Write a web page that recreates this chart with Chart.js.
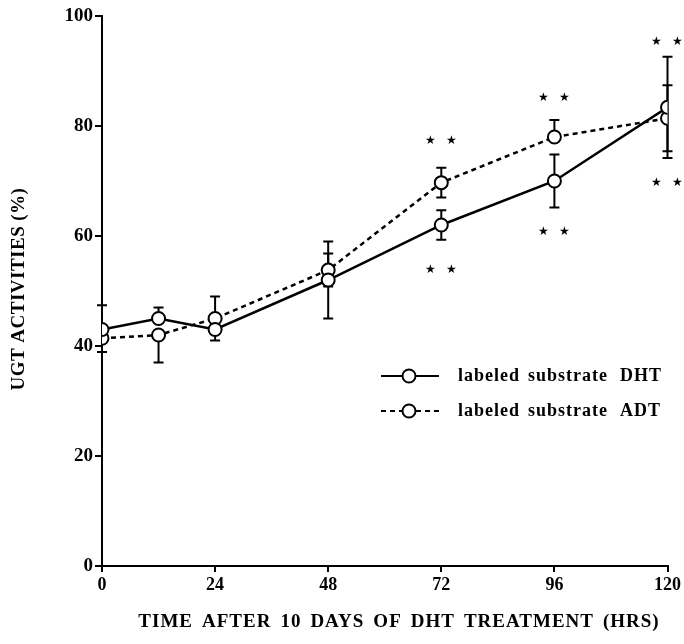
<!DOCTYPE html>
<html>
<head>
<meta charset="utf-8">
<script src="https://cdn.jsdelivr.net/npm/chart.js@4.4.1/dist/chart.umd.min.js"></script>
<style>
html,body{margin:0;padding:0;background:#fff;}
#wrap{width:684px;height:644px;}
</style>
</head>
<body>
<div id="wrap"><canvas id="c" width="684" height="644"></canvas></div>
<script>
// ---- data ----
const hours = [0, 12, 24, 48, 72, 96, 120];
const dhtValues = [43, 45, 43, 52, 62, 70, 83.4];
const dhtErrUp = [4.4, 2, 0, 7, 2.7, 4.8, 9.2];
const dhtErrDown = [0, 0, 2, 7, 2.7, 4.8, 9.2];
const adtValues = [41.4, 42, 45, 53.8, 69.7, 78, 81.4];
const adtErrUp = [0, 0, 4, 3, 2.7, 3.1, 6];
const adtErrDown = [2.5, 5, 0, 3, 2.7, 0, 6];
const starHours = [72, 72, 96, 96, 120, 120];
const starLevels = [77.3, 53.8, 85.1, 60.7, 95.3, 69.6];
const xTicks = [0, 24, 48, 72, 96, 120];
const yTicks = [0, 20, 40, 60, 80, 100];
const seriesLabels = ['labeled substrate DHT', 'labeled substrate ADT'];
const xTitle = 'TIME AFTER 10 DAYS OF DHT TREATMENT (HRS)';
const yTitle = 'UGT ACTIVITIES (%)';

const FONT = '"Liberation Serif", "Times New Roman", serif';

const errorBars = {
  id: 'errorBars',
  beforeDatasetsDraw(chart) {
    const ctx = chart.ctx, xs = chart.scales.x, ys = chart.scales.y;
    const sets = [[dhtValues, dhtErrUp, dhtErrDown], [adtValues, adtErrUp, adtErrDown]];
    ctx.save();
    ctx.strokeStyle = '#000';
    ctx.lineWidth = 2;
    ctx.setLineDash([]);
    sets.forEach(([v, up, dn]) => {
      hours.forEach((h, i) => {
        const px = xs.getPixelForValue(h);
        const py = ys.getPixelForValue(v[i]);
        [[up[i], 1], [dn[i], -1]].forEach(([e, s]) => {
          if (!e) return;
          const ey = ys.getPixelForValue(v[i] + s * e);
          ctx.beginPath();
          ctx.moveTo(px, py); ctx.lineTo(px, ey);
          ctx.moveTo(px - 5, ey); ctx.lineTo(px + 5, ey);
          ctx.stroke();
        });
      });
    });
    ctx.restore();
  }
};

function spacedText(ctx, text, x, y, wordGap) {
  const words = text.split(' ');
  let total = 0;
  words.forEach((w, i) => { total += ctx.measureText(w).width + (i ? wordGap : 0); });
  let cx = x - total / 2;
  words.forEach(w => {
    ctx.fillText(w, cx, y);
    cx += ctx.measureText(w).width + wordGap;
  });
}

const extras = {
  id: 'extras',
  afterDraw(chart) {
    const ctx = chart.ctx, xs = chart.scales.x, ys = chart.scales.y;
    ctx.save();
    // significance stars
    ctx.fillStyle = '#000';
    ctx.font = '12px "DejaVu Sans"';
    ctx.textAlign = 'center';
    ctx.textBaseline = 'middle';
    starHours.forEach((h, i) => {
      const px = xs.getPixelForValue(h);
      const py = ys.getPixelForValue(starLevels[i]);
      ctx.fillText('\u2605', px - 11, py);
      ctx.fillText('\u2605', px + 10, py);
    });
    // legend
    const rows = [[376, []], [411, [5, 4]]];
    const wordX = [458, 528, 620];
    rows.forEach(([y, dash], i) => {
      ctx.strokeStyle = '#000';
      ctx.lineWidth = 2;
      ctx.setLineDash(dash);
      ctx.beginPath();
      ctx.moveTo(381, y); ctx.lineTo(402, y);
      ctx.moveTo(416, y); ctx.lineTo(439, y);
      ctx.stroke();
      ctx.setLineDash([]);
      ctx.beginPath();
      ctx.arc(409, y, 6.5, 0, Math.PI * 2);
      ctx.fillStyle = '#fff';
      ctx.fill();
      ctx.stroke();
      ctx.fillStyle = '#000';
      ctx.font = 'bold 18px ' + FONT;
      ctx.letterSpacing = '1px';
      ctx.textAlign = 'left';
      ctx.textBaseline = 'middle';
      seriesLabels[i].split(' ').forEach((w, k) => ctx.fillText(w, wordX[k], y));
    });
    // axis titles
    ctx.font = 'bold 19px ' + FONT;
    ctx.letterSpacing = '1px';
    ctx.textAlign = 'left';
    ctx.textBaseline = 'middle';
    spacedText(ctx, xTitle, 399, 622, 9);
    ctx.letterSpacing = '0.5px';
    ctx.translate(19, 289);
    ctx.rotate(-Math.PI / 2);
    spacedText(ctx, yTitle, 0, 0, 5);
    ctx.restore();
  }
};

new Chart(document.getElementById('c'), {
  type: 'line',
  data: {
    datasets: [
      {
        label: seriesLabels[0],
        data: hours.map((h, i) => ({x: h, y: dhtValues[i]})),
        borderColor: '#000', borderWidth: 2.5,
        pointRadius: 6.5, pointBorderWidth: 2,
        pointBackgroundColor: '#fff', pointBorderColor: '#000',
        tension: 0, fill: false
      },
      {
        label: seriesLabels[1],
        data: hours.map((h, i) => ({x: h, y: adtValues[i]})),
        borderColor: '#000', borderWidth: 2.5, borderDash: [5, 4],
        pointRadius: 6.5, pointBorderWidth: 2,
        pointBackgroundColor: '#fff', pointBorderColor: '#000',
        tension: 0, fill: false
      }
    ]
  },
  options: {
    responsive: false,
    animation: false,
    devicePixelRatio: 1,
    layout: {padding: {left: 6, right: 15, top: 16, bottom: 4}},
    plugins: {legend: {display: false}, tooltip: {enabled: false}},
    scales: {
      x: {
        type: 'linear', min: 0, max: 120,
        afterBuildTicks(s) { s.ticks = xTicks.map(v => ({value: v})); },
        afterFit(s) { s.height = 74; },
        grid: {display: true, drawOnChartArea: false, drawTicks: true, tickLength: 6, color: '#000', lineWidth: 2},
        border: {display: true, color: '#000', width: 2},
        ticks: {color: '#000', font: {family: FONT, size: 18, weight: 'bold'}, padding: 3, maxRotation: 0},
        title: {display: false}
      },
      y: {
        type: 'linear', min: 0, max: 100,
        afterBuildTicks(s) { s.ticks = yTicks.map(v => ({value: v})); },
        afterFit(s) { s.width = 96; },
        grid: {display: true, drawOnChartArea: false, drawTicks: true, tickLength: 7, color: '#000', lineWidth: 2},
        border: {display: true, color: '#000', width: 2},
        ticks: {color: '#000', font: {family: FONT, size: 19, weight: 'bold'}, padding: 2},
        title: {display: false}
      }
    }
  },
  plugins: [errorBars, extras]
});
</script>
</body>
</html>
